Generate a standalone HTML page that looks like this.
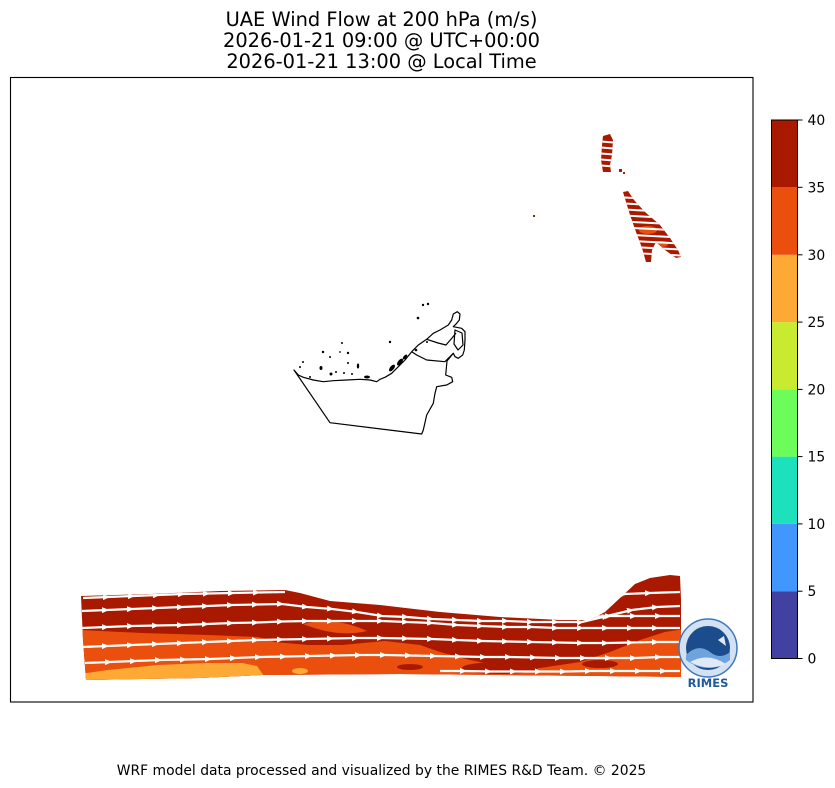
<!DOCTYPE html>
<html>
<head>
<meta charset="utf-8">
<style>
html,body{margin:0;padding:0;background:#fff;}
svg{display:block;}
text{font-family:"DejaVu Sans","Liberation Sans",sans-serif;}
</style>
</head>
<body>
<svg width="835" height="788" viewBox="0 0 835 788" xmlns="http://www.w3.org/2000/svg">
<defs>
  <marker id="arr" markerWidth="8" markerHeight="6" refX="5" refY="3" orient="auto" markerUnits="userSpaceOnUse">
    <path d="M0,0 L7,3 L0,6 Z" fill="#fff"/>
  </marker>
  <clipPath id="band">
    <path d="M81,596 L150,594 L220,591 L285,590 L300,593 L330,601 L380,605 L440,612 L500,617 L560,620 L590,620 L605,612 L620,598 L635,584 L650,578 L670,575 L680,576 L681,600 L681,677 L600,676 L500,675 L400,674 L262,675 L200,678 L86,680 L83,640 Z"/>
  </clipPath>
  <clipPath id="blob">
    <path d="M603,136 L610,134 L613,140 L612,155 L610,165 L611,172 L603,172 L601,160 L602,145 Z"/>
    <path d="M623,192 L628,191 L634,200 L645,212 L660,225 L670,238 L678,250 L681,257 L676,258 L665,250 L656,242 L652,250 L651,262 L646,262 L642,248 L636,232 L630,215 Z"/>
  </clipPath>
</defs>

<rect width="835" height="788" fill="#fff"/>

<!-- Title -->
<text x="381.5" y="26" font-size="19.4" text-anchor="middle" fill="#000">UAE Wind Flow at 200 hPa (m/s)</text>
<text x="381.5" y="47" font-size="19.4" text-anchor="middle" fill="#000">2026-01-21 09:00 @ UTC+00:00</text>
<text x="381.5" y="68" font-size="19.4" text-anchor="middle" fill="#000">2026-01-21 13:00 @ Local Time</text>

<!-- Bottom wind band -->
<g clip-path="url(#band)">
  <rect x="78" y="570" width="606" height="115" fill="#a81900"/>
  <path d="M80,630 L142,633 L208,635 L258,637 L275,642 L308,645 L342,645 L385,641 L420,645 L440,652 L470,660 L500,666 L540,668 L580,662 L610,652 L640,640 L665,632 L684,629 L684,685 L80,685 Z" fill="#ea4f0d"/>
  <path d="M303,624 Q335,616 367,631 Q338,638 303,624 Z" fill="#ea4f0d"/>
  <ellipse cx="500" cy="668" rx="38" ry="6" fill="#a81900"/>
  <ellipse cx="410" cy="667" rx="13" ry="3" fill="#a81900"/>
  <ellipse cx="600" cy="664" rx="18" ry="4" fill="#a81900"/>
  <path d="M80,674 L108,670 L158,665 L208,663 L242,663 L257,666 L264,676 L264,685 L80,685 Z" fill="#fcaa35"/>
  <ellipse cx="300" cy="671" rx="8" ry="3" fill="#fcaa35"/>
  <g fill="none" stroke="#fff" stroke-width="2.2" marker-mid="url(#arr)">
    <polyline points="83,598 108,597 133,596 158,595 183,594 208,593.5 233,593 258,592.5 285,592"/>
    <polyline points="82,611 107,610 132,609 157,608 182,607 207,606 232,605 257,604.5 282,604 307,607 332,609 357,612 382,616 407,617 432,619 457,620 482,621 507,621 532,622 557,622 582,622 607,616 632,610 657,607 680,606"/>
    <polyline points="82,628 107,627 132,626 157,625.5 182,625 207,624 232,623 257,622.5 282,621.5 307,621 332,621 357,621 382,621 407,622 432,623 457,625 482,626 507,627 532,627 557,628 582,628 607,628 632,628 657,628 680,628"/>
    <polyline points="82,647 107,646 132,645 157,644 182,643 207,642 232,641 257,640 282,639.5 307,639 332,638.5 357,638 382,638 407,638.5 432,639 457,640 482,641 507,641.5 532,642 557,642.5 582,643 607,643 632,642.5 657,642 680,642"/>
    <polyline points="85,663 110,662 135,661 160,660 185,659.5 210,659 235,658 260,657 285,656.5 310,656 335,655.5 360,655 385,655 410,655.5 435,656 460,656.5 485,657 510,657 535,657.5 560,658 585,658 610,658 635,658 660,657 680,657"/>
    <polyline points="440,671 465,671 490,671.5 515,671.5 540,671.5 565,671.5 590,671 615,671 640,671 665,671 680,671"/>
    <polyline points="600,598 625,594 650,593 680,592"/>
    <polyline points="560,617 585,617 610,616 635,616 660,616 680,616"/>
  </g>
</g>

<!-- Top-right streaks -->
<g clip-path="url(#blob)">
  <rect x="595" y="130" width="90" height="135" fill="#a81900"/>
  <ellipse cx="648" cy="230" rx="9" ry="4" fill="#ea4f0d"/>
  <ellipse cx="662" cy="244" rx="6" ry="3" fill="#ea4f0d"/>
  <g stroke="#fff" stroke-width="2">
    <line x1="595" y1="141" x2="620" y2="143"/>
    <line x1="595" y1="147" x2="620" y2="149"/>
    <line x1="595" y1="153" x2="620" y2="155"/>
    <line x1="595" y1="159" x2="620" y2="161"/>
    <line x1="595" y1="165" x2="620" y2="167"/>
    <line x1="615" y1="197" x2="690" y2="201"/>
    <line x1="615" y1="203" x2="690" y2="207"/>
    <line x1="615" y1="209" x2="690" y2="213"/>
    <line x1="615" y1="215" x2="690" y2="219"/>
    <line x1="615" y1="221" x2="690" y2="225"/>
    <line x1="615" y1="227" x2="690" y2="231"/>
    <line x1="615" y1="234" x2="690" y2="238"/>
    <line x1="615" y1="240" x2="690" y2="244"/>
    <line x1="615" y1="246" x2="690" y2="250"/>
    <line x1="615" y1="252" x2="690" y2="256"/>
  </g>
</g>
<rect x="619" y="169" width="3" height="3" fill="#a81900"/>
<rect x="623" y="172" width="2" height="2" fill="#a81900"/>
<rect x="533" y="215" width="2" height="2" fill="#a81900"/>

<!-- UAE outline -->
<g fill="none" stroke="#000" stroke-width="1.2" stroke-linejoin="round">
  <path d="M294,370 L298.3,375 L303.3,377.3 L313.3,380 L323.3,381.7 L333.3,380.7 L346.7,380 L360,379.3 L370,380 L376.7,381.7 L380,379.3 L385,377.3 L391.7,373.3 L398.3,366.7 L405,360 L411.7,351.7 L418.3,345 L426.7,339.3 L433.3,333.3 L440,330 L448.3,325 L451.7,320 L453.3,314 L457.3,311.7 L460,314 L459.3,320 L456.7,323.3 L453.3,326.7 L461.7,328.3 L465,331.7 L465,340 L464.3,350 L462.7,355 L458.3,358.3 L455,356.7 L453.3,353.3 L447,361 L445.7,375 L451.7,377.3 L452.7,381.7 L446.7,385 L436.7,386.7 L435,393.3 L433.3,403.3 L426.7,415 L423.3,430 L421.7,434 L330,422.7 Z"/>
  <path d="M411.7,351.7 L416.7,355 L426.7,360 L445,361.7"/>
  <path d="M426.7,339.3 L438,343 L446,345 L452,338 L456,333"/>
  <path d="M445,361.7 L453.3,353.3"/>
  <path d="M455,330 L462,333 L463,345 L458,350 L454,344 Z"/>
</g>
<g fill="#000">
  <circle cx="423" cy="305" r="1.2"/>
  <circle cx="428" cy="304" r="1.2"/>
  <circle cx="418" cy="318" r="1.3"/>
  <circle cx="390" cy="342" r="1.2"/>
  <circle cx="342" cy="343" r="1"/>
  <circle cx="323" cy="352" r="1.2"/>
  <circle cx="348" cy="353" r="1.2"/>
  <circle cx="340" cy="352" r="0.9"/>
  <circle cx="330" cy="357" r="1"/>
  <circle cx="348" cy="363" r="1"/>
  <ellipse cx="358" cy="366" rx="1.2" ry="2.5"/>
  <circle cx="303" cy="362" r="1"/>
  <ellipse cx="321" cy="368" rx="1.5" ry="2"/>
  <circle cx="300" cy="367" r="1"/>
  <circle cx="310" cy="377" r="1"/>
  <circle cx="331" cy="374" r="1.5"/>
  <circle cx="336" cy="372" r="1"/>
  <circle cx="344" cy="373" r="1"/>
  <circle cx="352" cy="374" r="1"/>
  <ellipse cx="367" cy="377" rx="3" ry="1.5"/>
  <ellipse cx="392" cy="368" rx="2" ry="4" transform="rotate(40 392 368)"/>
  <ellipse cx="400" cy="362" rx="2" ry="4" transform="rotate(40 400 362)"/>
  <ellipse cx="405" cy="357" rx="1.5" ry="3" transform="rotate(40 405 357)"/>
  <circle cx="416" cy="350" r="1.3"/>
  <circle cx="427" cy="342" r="1"/>
</g>

<!-- Logo -->
<g>
  <circle cx="708" cy="648" r="29" fill="#d3e2f2" stroke="#3f78bb" stroke-width="1.5"/>
  <circle cx="708" cy="648" r="22" fill="#1b4c8c"/>
  <path d="M686,655 Q698,643 710,652 Q720,660 730,652 L730,660 Q708,676 686,660 Z" fill="#6fa3dc"/>
  <path d="M690,662 Q708,652 726,664 Q708,672 690,662 Z" fill="#dfeaf6"/>
  <path d="M718,640 L724,636 L726,646 Z" fill="#dfeaf6"/>
  <text x="708" y="687" font-size="11.5" font-weight="bold" text-anchor="middle" fill="#1f5aa0" stroke="#fff" stroke-width="0.5" paint-order="stroke">RIMES</text>
</g>

<!-- Frame -->
<rect x="10.5" y="77.5" width="742.5" height="624.5" fill="none" stroke="#000" stroke-width="1.1"/>

<!-- Colorbar -->
<rect x="771.5" y="591.2" width="26" height="67.3" fill="#4041a1"/>
<rect x="771.5" y="523.9" width="26" height="67.3" fill="#4297ff"/>
<rect x="771.5" y="456.6" width="26" height="67.3" fill="#1de0bd"/>
<rect x="771.5" y="389.4" width="26" height="67.3" fill="#6cfd5a"/>
<rect x="771.5" y="322.1" width="26" height="67.3" fill="#c9eb2f"/>
<rect x="771.5" y="254.8" width="26" height="67.3" fill="#fcaa35"/>
<rect x="771.5" y="187.3" width="26" height="67.5" fill="#ea4f0d"/>
<rect x="771.5" y="120" width="26" height="67.3" fill="#a81900"/>
<rect x="771.5" y="120" width="26" height="538.5" fill="none" stroke="#000" stroke-width="1"/>
<g stroke="#000" stroke-width="1">
  <line x1="797.5" y1="658.5" x2="802.5" y2="658.5"/>
  <line x1="797.5" y1="591.2" x2="802.5" y2="591.2"/>
  <line x1="797.5" y1="523.9" x2="802.5" y2="523.9"/>
  <line x1="797.5" y1="456.6" x2="802.5" y2="456.6"/>
  <line x1="797.5" y1="389.4" x2="802.5" y2="389.4"/>
  <line x1="797.5" y1="322.1" x2="802.5" y2="322.1"/>
  <line x1="797.5" y1="254.8" x2="802.5" y2="254.8"/>
  <line x1="797.5" y1="187.3" x2="802.5" y2="187.3"/>
  <line x1="797.5" y1="120" x2="802.5" y2="120"/>
</g>
<g font-size="13.9" fill="#000">
  <text x="807.5" y="663.5">0</text>
  <text x="807.5" y="596.2">5</text>
  <text x="807.5" y="528.9">10</text>
  <text x="807.5" y="461.6">15</text>
  <text x="807.5" y="394.4">20</text>
  <text x="807.5" y="327.1">25</text>
  <text x="807.5" y="259.8">30</text>
  <text x="807.5" y="192.3">35</text>
  <text x="807.5" y="125">40</text>
</g>

<!-- Footer -->
<text x="381.5" y="775" font-size="13.9" text-anchor="middle" fill="#000">WRF model data processed and visualized by the RIMES R&amp;D Team. © 2025</text>
</svg>
</body>
</html>
